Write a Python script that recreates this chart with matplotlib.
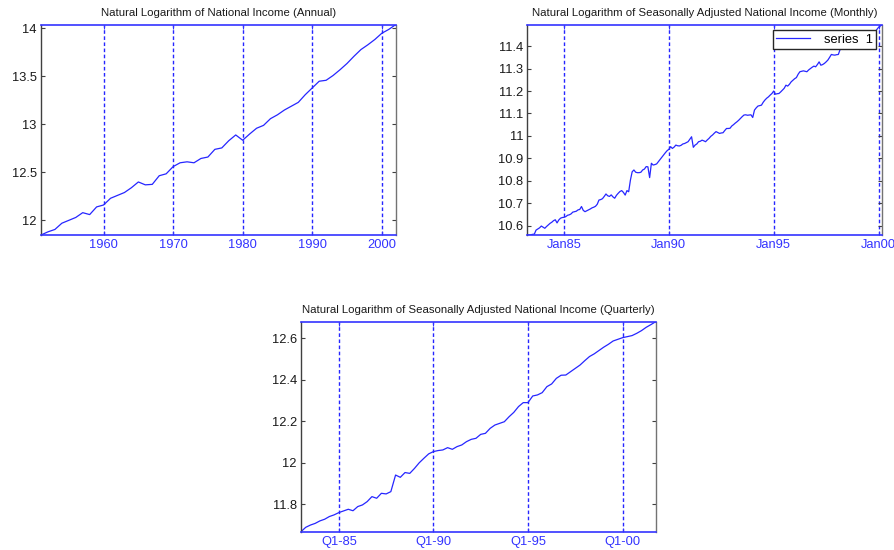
import matplotlib
matplotlib.use("Agg")
import matplotlib.pyplot as plt
from matplotlib.ticker import FuncFormatter

plt.rcParams['font.family'] = ['Liberation Sans', 'DejaVu Sans']

# ---------------- data ----------------
annual_years = list(range(1951, 2003))
annual_values = [11.847, 11.88, 11.905, 11.97, 12.00, 12.03, 12.08, 12.06, 12.14, 12.16,
                 12.23, 12.26, 12.29, 12.34, 12.40, 12.37, 12.375, 12.465, 12.485, 12.56,
                 12.60, 12.61, 12.60, 12.645, 12.66, 12.74, 12.755, 12.83, 12.89, 12.835,
                 12.90, 12.96, 12.99, 13.06, 13.10, 13.15, 13.19, 13.23, 13.31, 13.38,
                 13.45, 13.46, 13.51, 13.57, 13.635, 13.71, 13.78, 13.83, 13.885, 13.95,
                 13.99, 14.04]
annual_ticks = [1960, 1970, 1980, 1990, 2000]

monthly_start = 1983.25  # April 1983
monthly_values = [
    10.558, 10.558, 10.559, 10.561, 10.562, 10.580, 10.585, 10.590, 10.598,            # 1983 Apr-Dec
    10.593, 10.588, 10.596, 10.603, 10.610, 10.615, 10.622, 10.626, 10.612, 10.625, 10.633, 10.636,  # 1984
    10.637, 10.640, 10.646, 10.648, 10.652, 10.660, 10.662, 10.664, 10.670, 10.672, 10.685, 10.668,  # 1985
    10.662, 10.666, 10.670, 10.674, 10.679, 10.682, 10.686, 10.695, 10.714, 10.716, 10.720, 10.730,  # 1986
    10.741, 10.733, 10.730, 10.737, 10.728, 10.722, 10.735, 10.744, 10.752, 10.756, 10.748, 10.736,  # 1987
    10.756, 10.751, 10.803, 10.840, 10.848, 10.838, 10.836, 10.836, 10.838, 10.848, 10.852, 10.863,  # 1988
    10.862, 10.814, 10.878, 10.870, 10.872, 10.875, 10.885, 10.895, 10.905, 10.915, 10.925, 10.934,  # 1989
    10.940, 10.952, 10.944, 10.950, 10.959, 10.956, 10.955, 10.958, 10.964, 10.966, 10.970, 10.974,  # 1990
    10.985, 10.996, 10.949, 10.959, 10.964, 10.974, 10.976, 10.981, 10.978, 10.974, 10.982, 10.989,  # 1991
    10.998, 11.004, 11.012, 11.019, 11.015, 11.011, 11.013, 11.014, 11.024, 11.033, 11.033, 11.034,  # 1992
    11.044, 11.050, 11.057, 11.063, 11.070, 11.078, 11.086, 11.093, 11.094, 11.092, 11.093, 11.094,  # 1993
    11.082, 11.115, 11.125, 11.133, 11.135, 11.137, 11.150, 11.160, 11.168, 11.174, 11.182, 11.189,  # 1994
    11.200, 11.186, 11.188, 11.189, 11.196, 11.204, 11.212, 11.226, 11.222, 11.230, 11.241, 11.248,  # 1995
    11.255, 11.260, 11.275, 11.286, 11.288, 11.290, 11.288, 11.286, 11.294, 11.300, 11.306, 11.311,  # 1996
    11.308, 11.318, 11.330, 11.315, 11.318, 11.323, 11.330, 11.338, 11.350, 11.363, 11.361, 11.360,  # 1997
    11.362, 11.363, 11.385, 11.387, 11.392, 11.397, 11.399, 11.405, 11.408, 11.411, 11.417, 11.420,  # 1998
    11.424, 11.427, 11.433, 11.436, 11.441, 11.443, 11.449, 11.452, 11.456, 11.461, 11.464, 11.474,  # 1999
    11.484, 11.490, 11.496,                                                              # 2000 Jan-Mar
]
monthly_ticks = [1985, 1990, 1995, 2000]
monthly_ticklabels = ['Jan85', 'Jan90', 'Jan95', 'Jan00']

quarterly_start = 1983.0  # Q1 1983
quarterly_values = [
    11.668, 11.689, 11.700, 11.708,   # 1983
    11.720, 11.728, 11.741, 11.749,   # 1984
    11.760, 11.768, 11.776, 11.769,   # 1985
    11.789, 11.797, 11.813, 11.837,   # 1986
    11.829, 11.853, 11.850, 11.861,   # 1987
    11.941, 11.930, 11.953, 11.949,   # 1988
    11.973, 12.000, 12.022, 12.043,   # 1989
    12.054, 12.059, 12.062, 12.073,   # 1990
    12.065, 12.078, 12.086, 12.102,   # 1991
    12.113, 12.118, 12.137, 12.142,   # 1992
    12.166, 12.182, 12.190, 12.198,   # 1993
    12.222, 12.243, 12.271, 12.290,   # 1994
    12.290, 12.322, 12.327, 12.338,   # 1995
    12.367, 12.380, 12.407, 12.422,   # 1996
    12.423, 12.439, 12.455, 12.471,   # 1997
    12.492, 12.512, 12.525, 12.541,   # 1998
    12.557, 12.571, 12.587, 12.595,   # 1999
    12.603, 12.608, 12.613, 12.624,   # 2000
    12.637, 12.653, 12.666, 12.680,   # 2001
]
quarterly_ticks = [1985, 1990, 1995, 2000]
quarterly_ticklabels = ['Q1-85', 'Q1-90', 'Q1-95', 'Q1-00']

titles = ['Natural Logarithm of National Income (Annual)',
          'Natural Logarithm of Seasonally Adjusted National Income (Monthly)',
          'Natural Logarithm of Seasonally Adjusted National Income (Quarterly)']

# ---------------- style ----------------
LINE = (0.15, 0.15, 1.0)
XBLUE = (0.2, 0.2, 1.0)
GRID = (0.15, 0.15, 1.0)
YCOL = (0.25, 0.25, 0.25)
TFS = 8.2
LFS = 9.3

fig = plt.figure(figsize=(8.95, 5.5), dpi=100)
fig.patch.set_facecolor('white')

def style(ax, x, y, title, xticks, xticklabels=None, yticks=None):
    ax.plot(x, y, color=LINE, lw=0.9, label='series 1')
    ax.set_xlim(x[0], x[-1])
    ax.set_ylim(min(y), max(y))
    ax.set_xticks(xticks)
    if xticklabels is not None:
        ax.set_xticklabels(xticklabels)
    if yticks is not None:
        ax.set_yticks(yticks)
    ax.yaxis.set_major_formatter(FuncFormatter(lambda v, p: '%g' % round(v, 4)))
    for xt in xticks:
        ax.axvline(xt, color=GRID, lw=1.0, linestyle=(0, (2.6, 1.8)), zorder=1)
    for s in ('top', 'bottom'):
        ax.spines[s].set_color(XBLUE)
        ax.spines[s].set_linewidth(1.2)
    ax.spines['left'].set_color(YCOL)
    ax.spines['right'].set_color((0.45, 0.45, 0.45))
    for s in ('left', 'right'):
        ax.spines[s].set_linewidth(1.0)
    ax.tick_params(axis='x', direction='in', colors=XBLUE, labelcolor=XBLUE,
                   labelsize=LFS, length=3, top=True, pad=3)
    ax.tick_params(axis='y', direction='in', colors=YCOL, labelcolor=(0.1, 0.1, 0.1),
                   labelsize=LFS, length=3, right=True, pad=3)
    ax.set_title(title, fontsize=TFS, pad=6, color=(0.1, 0.1, 0.1))

W = 0.3963
H = 0.3825
ax1 = fig.add_axes([0.0458, 0.5727, W, H])
style(ax1, annual_years, annual_values, titles[0], annual_ticks,
      yticks=[12, 12.5, 13, 13.5, 14])

ax2 = fig.add_axes([0.5892, 0.5727, W, H])
mx = [monthly_start + i / 12.0 for i in range(len(monthly_values))]
style(ax2, mx, monthly_values, titles[1], monthly_ticks, monthly_ticklabels,
      yticks=[10.6, 10.7, 10.8, 10.9, 11.0, 11.1, 11.2, 11.3, 11.4])
leg = ax2.legend(['series  1'], loc='upper right', fontsize=LFS, frameon=True, fancybox=False,
                 borderaxespad=0.45, handlelength=2.6, borderpad=0.25,
                 handletextpad=1.1, framealpha=1.0)
leg.get_frame().set_edgecolor((0.15, 0.15, 0.15))
leg.get_frame().set_linewidth(1.0)
leg.set_zorder(10)

ax3 = fig.add_axes([0.3363, 0.0333, W, 0.3818])
qx = [quarterly_start + i / 4.0 for i in range(len(quarterly_values))]
style(ax3, qx, quarterly_values, titles[2], quarterly_ticks, quarterly_ticklabels,
      yticks=[11.8, 12.0, 12.2, 12.4, 12.6])

fig.savefig('out.png', dpi=100, facecolor='white')
